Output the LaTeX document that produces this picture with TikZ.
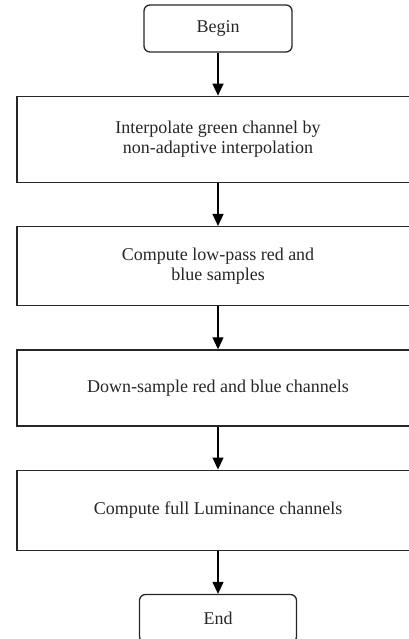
\documentclass[tikz,border=0pt]{standalone}
\usepackage{fontspec}
\setmainfont{Liberation Serif}
\usetikzlibrary{shapes,arrows.meta,positioning}

\begin{document}
\begin{tikzpicture}[->,>={Triangle[width=11pt,length=12pt]},line width=1.3pt,node distance=43pt]
\tikzstyle{every node}=[font=\fontsize{18}{20}\selectfont, text=black!85]
\tikzstyle{terminal}=[draw=black!85, rounded corners=6pt, minimum width=148pt, minimum height=47pt]
\tikzstyle{process}=[draw=black!85, minimum width=402pt, minimum height=80pt, align=center]
\useasboundingbox (0,0) rectangle (408pt,-639pt);
\node[terminal] (start) at (218pt,-28.5pt) {Begin};
\node[process,minimum height=86pt][below=of start](green){Interpolate green channel by\\non-adaptive interpolation};
\node[process,minimum height=79pt][below=of green](lowpass){Compute low-pass red and\\blue samples};
\node[process,minimum height=76pt][below=of lowpass](down){Down-sample red and blue channels};
\node[process][below=of down](luma){Compute full Luminance channels};
\node[terminal,minimum width=157pt,minimum height=48pt][below=of luma](stop){End};
\path (start) edge (green)
      (green) edge (lowpass)
      (lowpass) edge (down)
      (down) edge (luma)
      (luma) edge (stop);
\end{tikzpicture}
\end{document}
